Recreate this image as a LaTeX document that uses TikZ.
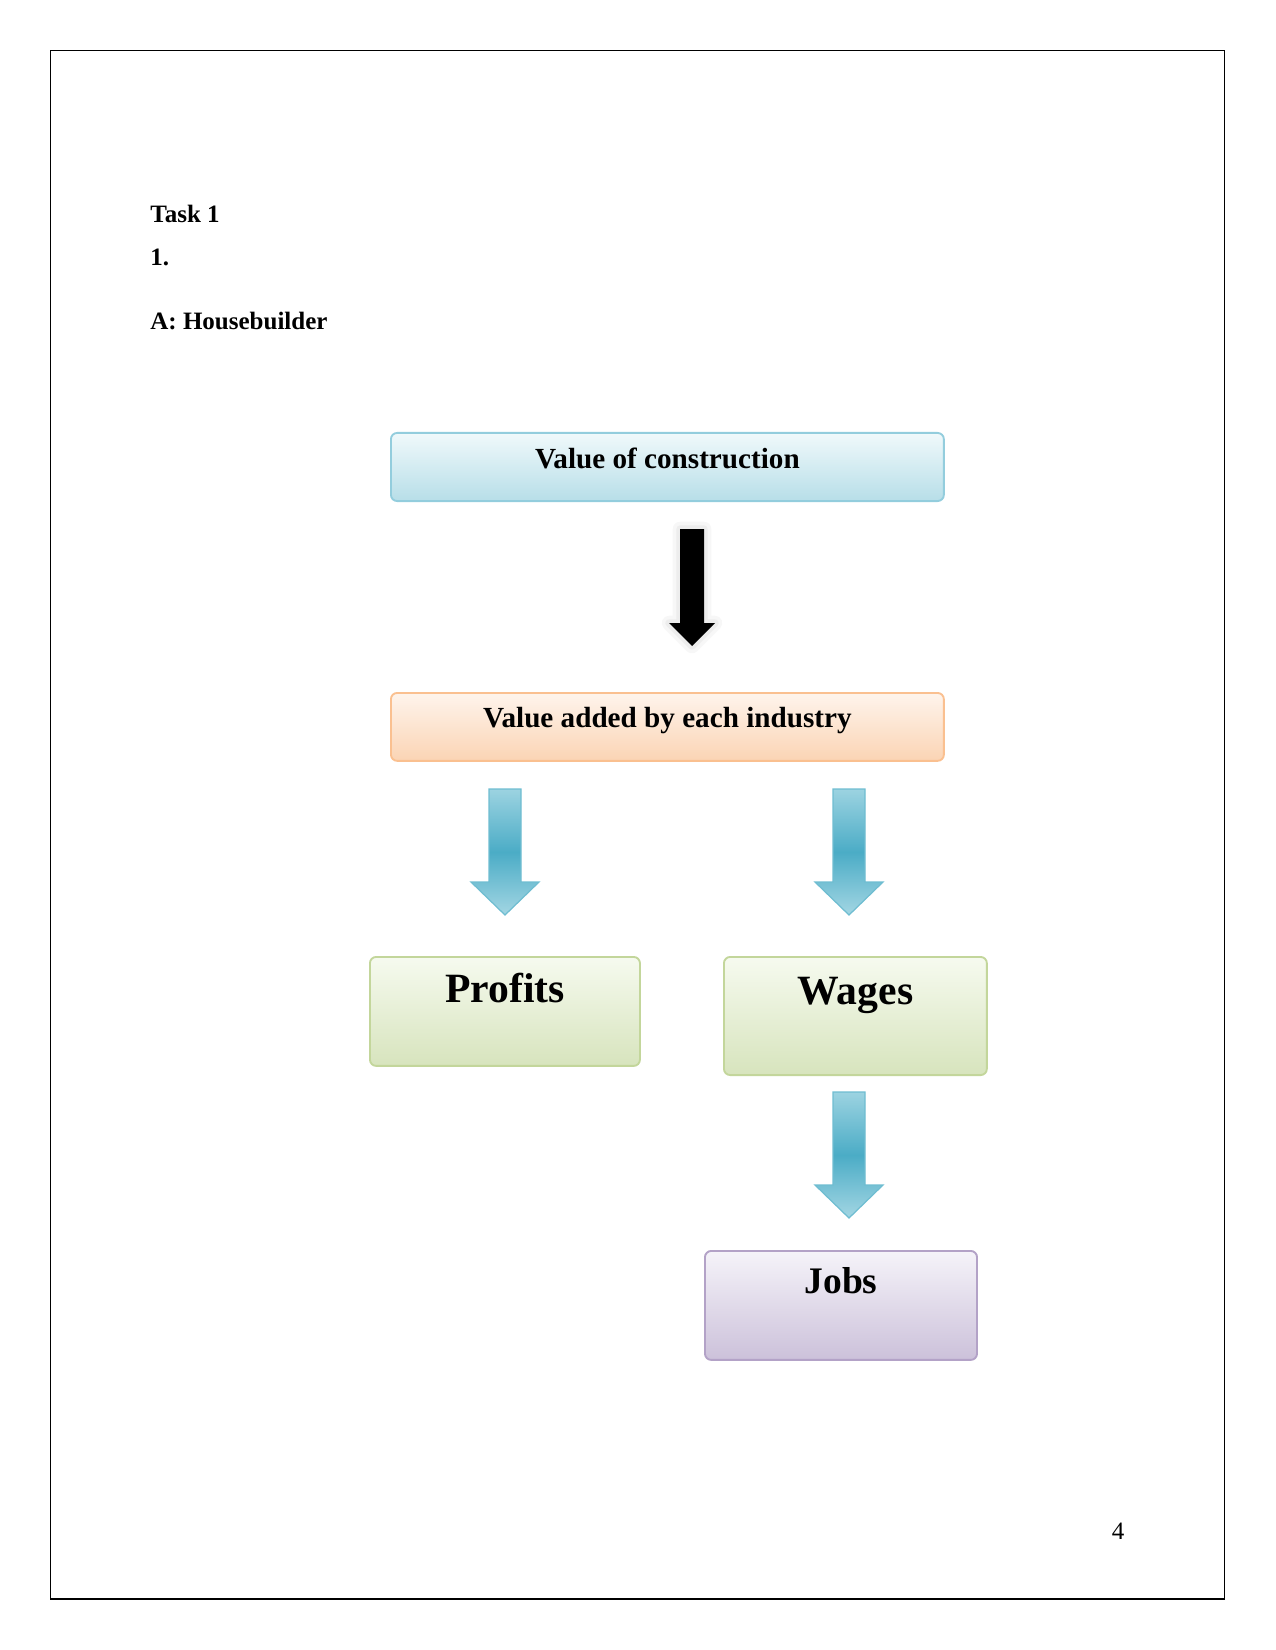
\documentclass[tikz,border=0pt]{standalone}
\usepackage{fontspec}
\setmainfont{Liberation Serif}
\definecolor{cyantop}{HTML}{F0F9FB}
\definecolor{cyanbot}{HTML}{B7DEE8}
\definecolor{cyanline}{HTML}{93CDDD}
\definecolor{peachtop}{HTML}{FEF4EC}
\definecolor{peachbot}{HTML}{FBD4B4}
\definecolor{peachline}{HTML}{FAC090}
\definecolor{greentop}{HTML}{F6FAEF}
\definecolor{greenbot}{HTML}{D7E4BD}
\definecolor{greenline}{HTML}{C3D69B}
\definecolor{lilactop}{HTML}{F5F3F9}
\definecolor{lilacbot}{HTML}{CCC1DA}
\definecolor{lilacline}{HTML}{B3A2C7}
\definecolor{arrowtop}{HTML}{9CD3E1}
\definecolor{arrowmid}{HTML}{4BACC6}
\definecolor{arrowbot}{HTML}{A3D6E3}
\definecolor{arrowline}{HTML}{6FBDD1}

\begin{document}
\begin{tikzpicture}[x=0.48pt, y=-0.48pt,
  every node/.style={inner sep=0pt},
  box/.style={draw, line width=0.9pt, rounded corners=3pt, anchor=north west, align=center},
  cyanbox/.style={box, draw=cyanline, top color=cyantop, bottom color=cyanbot,
    font=\fontsize{14}{17}\selectfont\bfseries},
  peachbox/.style={box, draw=peachline, top color=peachtop, bottom color=peachbot,
    font=\fontsize{14}{17}\selectfont\bfseries},
  greenbox/.style={box, draw=greenline, top color=greentop, bottom color=greenbot,
    font=\fontsize{20}{24}\selectfont\bfseries},
  lilacbox/.style={box, draw=lilacline, top color=lilactop, bottom color=lilacbot,
    font=\fontsize{18}{22}\selectfont\bfseries},
  heading/.style={anchor=base west, font=\fontsize{12}{14}\selectfont\bfseries},
  bluearrow/.pic={
    \shade[top color=arrowtop, bottom color=arrowbot, middle color=arrowmid,
      draw=arrowline, line width=0.6pt]
      (-16,0) -- (16,0) -- (16,93) -- (34,93) -- (0,126) -- (-34,93) -- (-16,93) -- cycle;
  },
  blackarrow/.pic={
    \draw[black!3, line width=7pt, line join=round]
      (-12,0) -- (12,0) -- (12,94) -- (23,94) -- (0,117) -- (-23,94) -- (-12,94) -- cycle;
    \draw[black!7, line width=3.5pt, line join=round]
      (-12,0) -- (12,0) -- (12,94) -- (23,94) -- (0,117) -- (-23,94) -- (-12,94) -- cycle;
    \fill[black]
      (-12,0) -- (12,0) -- (12,94) -- (23,94) -- (0,117) -- (-23,94) -- (-12,94) -- cycle;
  }]
  \useasboundingbox (0,0) rectangle (1275,1650);

  % page frame
  \draw[line width=0.5pt] (50.5,50.5) rectangle (1224.5,1599);

  % headings
  \node[heading] (task) at (150,223) {Task 1};
  \node[heading] (num) at (150,266) {1.};
  \node[heading] (part) at (150,330) {A: Housebuilder};

  % top boxes
  \node[cyanbox, minimum width=265.4pt, text height=17.3pt, text depth=15.4pt]
    (value) at (390,432) {Value of construction};
  \pic (down) at (692,529) {blackarrow};
  \node[peachbox, minimum width=265.4pt, text height=16.8pt, text depth=15.8pt]
    (added) at (390,692) {Value added by each industry};

  % split
  \pic (toprofit) at (505,789) {bluearrow};
  \pic (towage) at (849,789) {bluearrow};
  \node[greenbox, minimum width=129.6pt, text height=22.1pt, text depth=30.2pt]
    (profits) at (369,956) {Profits};
  \node[greenbox, minimum width=126.2pt, text height=22.6pt, text depth=34.1pt]
    (wages) at (723,956) {Wages};

  % jobs
  \pic (tojob) at (849,1092) {bluearrow};
  \node[lilacbox, minimum width=130.6pt, text height=20.6pt, text depth=31.7pt]
    (jobs) at (704,1250) {Jobs};

  % page number
  \node[anchor=base, font=\fontsize{12}{14}\selectfont] (page) at (1118,1539) {4};
\end{tikzpicture}
\end{document}
